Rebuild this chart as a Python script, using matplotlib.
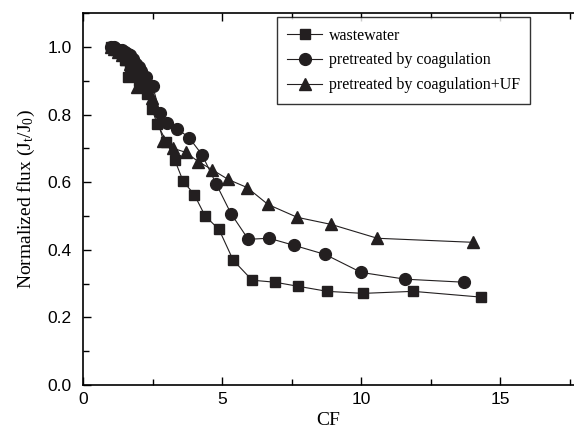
import matplotlib
matplotlib.use("Agg")
import matplotlib.pyplot as plt
from matplotlib.ticker import MultipleLocator

plt.rcParams["mathtext.fontset"] = "custom"
plt.rcParams["mathtext.rm"] = "Liberation Serif"
plt.rcParams["mathtext.it"] = "Liberation Serif:italic"

# wastewater (squares)
cf_ww = [1.0, 1.1, 1.2, 1.3, 1.4, 1.5, 1.6, 1.7, 1.8, 1.9, 2.0, 2.15, 2.3, 2.48, 2.66, 3.0, 3.3, 3.6, 4.0,
         4.39, 4.89, 5.4, 6.08, 6.9, 7.73, 8.78, 10.07, 11.87, 14.3]
flux_ww = [1.0, 0.995, 0.99, 0.985, 0.975, 0.96, 0.91, 0.945, 0.93, 0.915, 0.90, 0.88, 0.86, 0.817, 0.773, 0.72,
           0.665, 0.603, 0.563, 0.50, 0.46, 0.369, 0.31, 0.304, 0.292, 0.277, 0.271, 0.277, 0.26]

# pretreated by coagulation (circles)
cf_co = [1.0, 1.1, 1.2, 1.3, 1.4, 1.5, 1.6, 1.7, 1.8, 1.9, 2.0, 2.1, 2.25, 2.5, 2.77, 3.02, 3.38, 3.81,
         4.28, 4.78, 5.32, 5.94, 6.69, 7.59, 8.71, 10.0, 11.58, 13.7]
flux_co = [1.0, 1.0, 0.995, 0.99, 0.99, 0.985, 0.98, 0.975, 0.965, 0.95, 0.94, 0.93, 0.91, 0.885, 0.805, 0.776,
           0.758, 0.732, 0.681, 0.596, 0.507, 0.431, 0.434, 0.413, 0.386, 0.333, 0.313, 0.304]

# pretreated by coagulation+UF (triangles)
cf_uf = [1.0, 1.1, 1.25, 1.4, 1.55, 1.7, 1.85, 1.94, 2.05, 2.2, 2.35, 2.48, 2.88, 3.24, 3.7, 4.14, 4.64,
         5.22, 5.9, 6.65, 7.7, 8.92, 10.58, 14.03]
flux_uf = [1.0, 0.995, 0.985, 0.975, 0.965, 0.95, 0.93, 0.88, 0.91, 0.89, 0.87, 0.85, 0.723, 0.70, 0.688,
           0.661, 0.637, 0.608, 0.584, 0.534, 0.496, 0.475, 0.434, 0.422]

mk = "#231f20"

fig = plt.figure(figsize=(5.74, 4.37), dpi=100)
ax = fig.add_axes([0.1446, 0.119, 0.8554, 0.851])

ax.plot(cf_ww, flux_ww, "-s", color=mk, lw=0.8, ms=7, label="wastewater")
ax.plot(cf_co, flux_co, "-o", color=mk, lw=0.8, ms=8.5, label="pretreated by coagulation")
ax.plot(cf_uf, flux_uf, "-^", color=mk, lw=0.8, ms=9, label="pretreated by coagulation+UF")

ax.set_xlim(0, 17.65)
ax.set_ylim(0, 1.1)
ax.set_xticks([0, 5, 10, 15])
ax.set_yticks([0, 0.2, 0.4, 0.6, 0.8, 1.0])
ax.set_yticklabels(["0.0", "0.2", "0.4", "0.6", "0.8", "1.0"])
ax.xaxis.set_minor_locator(MultipleLocator(2.5))
ax.yaxis.set_minor_locator(MultipleLocator(0.1))
ax.tick_params(which="both", direction="in", top=True, right=False,
               labelsize=12.5, width=1)
ax.tick_params(which="major", length=6)
ax.tick_params(which="minor", length=4)
ax.tick_params(axis="y", pad=8)
ax.tick_params(axis="x", pad=5)
for lab in ax.get_xticklabels() + ax.get_yticklabels():
    lab.set_fontfamily("Liberation Sans")
ax.spines["right"].set_visible(False)
for s in ["left", "bottom", "top"]:
    ax.spines[s].set_linewidth(1.2)

ax.set_xlabel("CF", family="Liberation Serif", fontsize=14, labelpad=4)
ax.set_ylabel("Normalized flux (J$_\\mathrm{t}$/J$_\\mathrm{0}$)", family="Liberation Serif",
              fontsize=14, labelpad=8)

leg = ax.legend(loc="upper left", bbox_to_anchor=(0.395, 0.989), borderaxespad=0, frameon=True,
                fancybox=False, edgecolor="black", handlelength=2.2, handletextpad=0.4,
                borderpad=0.65, labelspacing=0.55,
                prop={"family": "Liberation Serif", "size": 11.5})
leg.get_frame().set_linewidth(1.0)

fig.savefig("out.png", dpi=100)
